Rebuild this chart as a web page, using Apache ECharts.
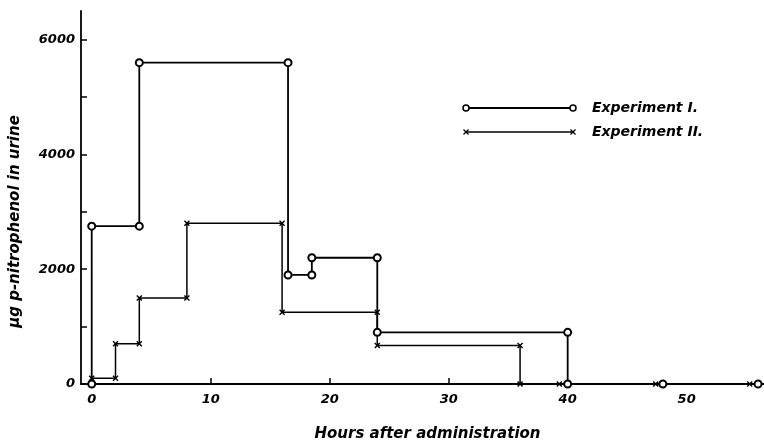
<!DOCTYPE html>
<html>
<head>
<meta charset="utf-8">
<script src="https://cdn.jsdelivr.net/npm/echarts@6/dist/echarts.min.js"></script>
<style>html,body{margin:0;padding:0;background:#fff;overflow:hidden}#c{width:764px;height:447px}</style>
</head>
<body>
<div id="c"></div>
<script>
// Experiment I (open circles): [hours, µg]
const expI = [[0,0],[0,2750],[4,2750],[4,5600],[16.5,5600],[16.5,1900],[18.5,1900],[18.5,2200],[24,2200],[24,900],[40,900],[40,0],[48,0],[56,0]];
// Experiment II (crosses)
const expII = [[0,0],[0,100],[2,100],[2,700],[4,700],[4,1500],[8,1500],[8,2800],[16,2800],[16,1250],[24,1250],[24,670],[36,670],[36,0],[39.3,0],[47.4,0],[55.3,0]];
const xLabels = [0,10,20,30,40,50];
const xTicks = [10,20,30];
const yLabels = [0,2000,4000,6000];
const yTicks = [1000,2000,3000,4000,5000,6000];
const seriesNames = ['Experiment I.', 'Experiment II.'];

const FONT = 'DejaVu Sans';
const cross = 'path://M0,0L10,10M10,0L0,10';
const chart = echarts.init(document.getElementById('c'), null, {renderer:'canvas'});
const lblStyle = {color:'#000', fontFamily:FONT, fontStyle:'italic', fontWeight:'bold', fontSize:13, formatter:v => String(v)};
function xMark(cx, cy) {
  return [
    {type:'line', shape:{x1:cx-2.5,y1:cy-2.5,x2:cx+2.5,y2:cy+2.5}, style:{stroke:'#000', lineWidth:1.3}},
    {type:'line', shape:{x1:cx+2.5,y1:cy-2.5,x2:cx-2.5,y2:cy+2.5}, style:{stroke:'#000', lineWidth:1.3}}
  ];
}
const legendFont = 'italic bold 14px "DejaVu Sans"';
chart.setOption({
  animation:false,
  backgroundColor:'#fff',
  grid:{left:78, top:11, width:686, height:386},
  xAxis:{
    type:'value', min:-0.9, max:56.5,
    axisLine:{onZero:false, lineStyle:{color:'#000', width:1.8}},
    axisTick:{inside:true, length:6, customValues:xTicks, lineStyle:{color:'#000', width:1.5}},
    axisLabel:Object.assign({customValues:xLabels, margin:9}, lblStyle),
    splitLine:{show:false},
    name:'Hours after administration', nameLocation:'middle', nameGap:43,
    nameTextStyle:{color:'#000', fontFamily:FONT, fontStyle:'italic', fontWeight:'bold', fontSize:15, padding:[0,0,0,10]}
  },
  yAxis:{
    type:'value', min:0, max:6500,
    axisLine:{show:true, onZero:false, lineStyle:{color:'#000', width:1.8}},
    axisTick:{show:true, inside:true, length:6, customValues:yTicks, lineStyle:{color:'#000', width:1.5}},
    axisLabel:Object.assign({customValues:yLabels, margin:6}, lblStyle),
    splitLine:{show:false},
    name:'\u00b5g p-nitrophenol in urine', nameLocation:'middle', nameGap:58,
    nameTextStyle:{color:'#000', fontFamily:FONT, fontStyle:'italic', fontWeight:'bold', fontSize:15, padding:[0,48,0,0]}
  },
  series:[
    {name:seriesNames[0], type:'line', data:expI, symbol:'emptyCircle', symbolSize:7,
     lineStyle:{color:'#000', width:1.8}, itemStyle:{color:'#000', borderColor:'#000', borderWidth:1.5}, z:3},
    {name:seriesNames[1], type:'line', data:expII, symbol:cross, symbolSize:5,
     lineStyle:{color:'#000', width:1.5}, itemStyle:{color:'#000', borderColor:'#000', borderWidth:1.4}, z:2}
  ],
  graphic:[
    {type:'line', shape:{x1:466,y1:108,x2:573,y2:108}, style:{stroke:'#000', lineWidth:1.8}},
    {type:'circle', shape:{cx:466,cy:108,r:3}, style:{fill:'#fff', stroke:'#000', lineWidth:1.5}},
    {type:'circle', shape:{cx:573,cy:108,r:3}, style:{fill:'#fff', stroke:'#000', lineWidth:1.5}},
    {type:'text', x:592, y:108, style:{text:seriesNames[0], font:legendFont, fill:'#000', textVerticalAlign:'middle'}},
    {type:'line', shape:{x1:466,y1:132,x2:573,y2:132}, style:{stroke:'#000', lineWidth:1.5}}
  ].concat(xMark(466,132), xMark(573,132), [
    {type:'text', x:592, y:132, style:{text:seriesNames[1], font:legendFont, fill:'#000', textVerticalAlign:'middle'}}
  ])
});
</script>
</body>
</html>
